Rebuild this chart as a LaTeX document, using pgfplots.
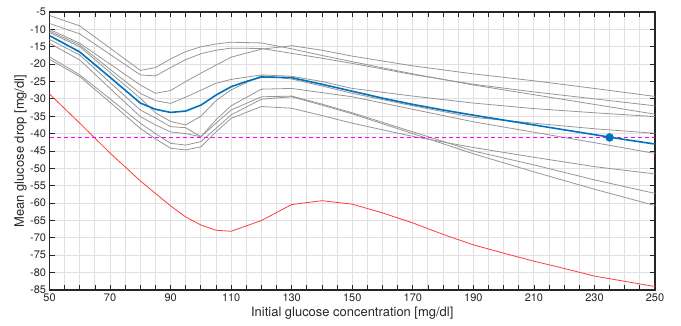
\documentclass[border=0pt]{standalone}
\usepackage{pgfplots}
\pgfplotsset{compat=1.18}
\usepackage{fontspec}
\setmainfont{TeX Gyre Heros}
\definecolor{mblue}{RGB}{0,114,189}
\definecolor{mgrey}{RGB}{150,150,150}
\definecolor{mred}{RGB}{255,60,60}
\definecolor{mmag}{RGB}{255,0,255}
\definecolor{mgrid}{RGB}{224,224,224}
\definecolor{maxis}{RGB}{38,38,38}
\begin{document}
\begin{tikzpicture}
\begin{axis}[
  at={(0,0)}, anchor=south west,
  scale only axis, width=605.5bp, height=278bp,
  xmin=50, xmax=250, ymin=-85, ymax=-5,
  xtick={50,70,...,250}, minor xtick={50,55,...,250},
  ytick={-85,-80,...,-5},
  grid=both,
  major grid style={color=mgrid, line width=0.9bp},
  minor grid style={color=mgrid, line width=0.9bp},
  tick align=inside,
  major tick length=5bp, minor tick length=5bp,
  every tick/.style={color=maxis, line width=0.8bp},
  axis line style={color=maxis, line width=1.1bp},
  xticklabel style={font=\fontsize{11}{13}\selectfont, text=maxis},
  yticklabel style={font=\fontsize{11}{13}\selectfont, text=maxis},
  /pgf/number format/assume math mode=true,
  /pgf/number format/1000 sep={},
  xlabel={Initial glucose concentration [mg/dl]},
  ylabel={Mean glucose drop [mg/dl]},
  every axis x label/.style={at={(axis description cs:0.5,0)}, yshift=-23bp, anchor=center, font=\fontsize{13}{15}\selectfont, text=maxis},
  every axis y label/.style={at={(axis description cs:0,0.5)}, xshift=-29bp, rotate=90, anchor=center, font=\fontsize{13}{15}\selectfont, text=maxis},
  clip=true,
]
% grey curves
\addplot[draw=mgrey, line width=0.8bp] coordinates {(50,-6)(60,-9)(70,-15.4)(80,-21.8)(85,-21)(90,-18.5)(95,-16.4)(100,-15)(105,-14.2)(110,-13.7)(120,-13.9)(130,-15.6)(140,-17.5)(150,-19.3)(170,-22.8)(190,-26)(210,-28.8)(230,-31.6)(250,-34.4)};
\addplot[draw=mgrey, line width=0.8bp] coordinates {(50,-8.3)(60,-11.3)(70,-17.2)(80,-23.1)(85,-23.4)(90,-21)(95,-18.7)(100,-17)(105,-16)(110,-15.4)(120,-15.5)(130,-16.9)(140,-18.3)(150,-19.8)(170,-23)(190,-25.8)(210,-28)(230,-30)(250,-32)};
\addplot[draw=mgrey, line width=0.8bp] coordinates {(50,-10)(60,-14)(70,-20)(80,-26)(85,-28.4)(90,-27.6)(95,-25)(100,-22.6)(105,-20.3)(110,-18)(120,-15.7)(130,-14.7)(140,-16)(150,-17.7)(170,-20.5)(190,-22.8)(210,-24.8)(230,-27)(250,-29.3)};
\addplot[draw=mgrey, line width=0.8bp] coordinates {(50,-10.5)(60,-14.5)(70,-21.5)(80,-28.4)(85,-30.5)(90,-31.3)(95,-29.5)(100,-27.5)(105,-25.5)(110,-24.4)(120,-23.1)(130,-23.5)(140,-25)(150,-27)(170,-29.2)(190,-31.2)(210,-32.8)(230,-34)(250,-35.1)};
\addplot[draw=mgrey, line width=0.8bp] coordinates {(50,-10.9)(60,-15)(70,-22.4)(80,-29.8)(85,-34)(90,-36.5)(95,-37.5)(100,-35)(105,-30.5)(110,-27.4)(120,-23.3)(130,-24.3)(140,-26.3)(150,-28.4)(170,-32)(190,-35.3)(210,-37)(230,-38.6)(250,-39.9)};
\addplot[draw=mgrey, line width=0.8bp] coordinates {(50,-12.9)(60,-17.4)(70,-25.3)(80,-33.2)(85,-35.5)(90,-38)(95,-38.3)(100,-40.9)(105,-36)(110,-32)(120,-27.2)(130,-27)(140,-28.2)(150,-29.4)(170,-33)(190,-36.6)(210,-39.6)(230,-42.6)(250,-45.7)};
\addplot[draw=mgrey, line width=0.8bp] coordinates {(50,-14)(60,-18.8)(70,-27)(80,-35.1)(85,-37.5)(90,-39.5)(95,-40)(100,-40.9)(105,-37)(110,-33.2)(120,-29.4)(130,-29.2)(140,-31.5)(150,-34)(170,-39.5)(190,-45)(210,-49)(230,-53.3)(250,-57.2)};
\addplot[draw=mgrey, line width=0.8bp] coordinates {(50,-17.9)(60,-23.1)(70,-30)(80,-37)(85,-40)(90,-42.8)(95,-43.3)(100,-42.3)(105,-38.5)(110,-34.6)(120,-30.1)(130,-29.4)(140,-31.8)(150,-34.3)(170,-40)(190,-45.8)(210,-51)(230,-56)(250,-60.7)};
\addplot[draw=mgrey, line width=0.8bp] coordinates {(50,-18.6)(60,-23.6)(70,-31)(80,-38.5)(85,-41.5)(90,-44.2)(95,-44.7)(100,-43.8)(105,-39.5)(110,-35.6)(120,-32.2)(130,-32.7)(140,-34.8)(150,-37)(170,-40.8)(190,-44)(210,-46.8)(230,-49.5)(250,-51.6)};
% red curve
\addplot[draw=mred, line width=0.8bp] coordinates {(50,-28.6)(60,-37)(70,-45.6)(80,-53.6)(90,-60.8)(95,-64)(100,-66.3)(105,-67.8)(110,-68.1)(120,-65)(130,-60.4)(140,-59.3)(150,-60.3)(160,-62.8)(170,-65.7)(180,-69)(190,-72)(200,-74.4)(210,-76.7)(220,-78.8)(230,-81)(240,-82.5)(250,-84)};
% dashed threshold
\addplot[draw=mmag, line width=1bp, dash pattern=on 4bp off 3bp] coordinates {(50,-41.1)(250,-41.1)};
% blue mean curve
\addplot[draw=mblue, line width=1.6bp] coordinates {(50,-11.8)(60,-16.5)(70,-23.8)(80,-31.2)(85,-33)(90,-33.9)(95,-33.5)(100,-31.8)(105,-28.9)(110,-26.5)(115,-25)(120,-23.7)(130,-23.9)(140,-25.8)(150,-27.8)(160,-29.8)(170,-31.6)(180,-33.2)(190,-34.7)(200,-36.1)(210,-37.5)(220,-38.9)(230,-40.3)(240,-41.7)(250,-43)};
\addplot[only marks, mark=*, mark size=4bp, color=mblue] coordinates {(235,-41.1)};
\end{axis}
\path[use as bounding box] (-49.5bp,-36bp) rectangle (631.5bp,290bp);
\end{tikzpicture}
\end{document}
